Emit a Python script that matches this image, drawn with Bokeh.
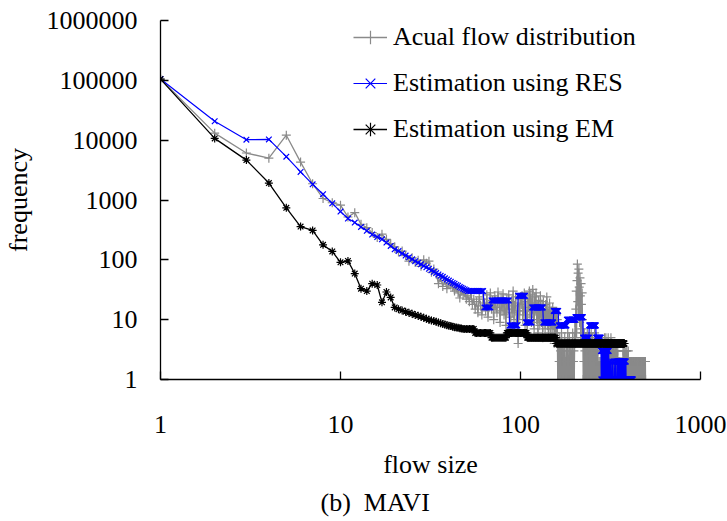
from bokeh.plotting import figure
from bokeh.models import Range1d, FixedTicker, NumeralTickFormatter, Legend, LegendItem, Title
from bokeh.embed import file_html
from bokeh.resources import INLINE

FONT = "Liberation Serif"
GRAY = "#8a8a8a"
BLUE = "#0000ff"
BLACK = "#000000"

x_ticks = [1, 10, 100, 1000]
y_ticks = [1, 10, 100, 1000, 10000, 100000, 1000000]

series_labels = ["Acual flow distribution", "Estimation using RES", "Estimation using EM"]
caption_text = "(b)\u00a0\u00a0MAVI"

# Actual flow distribution, frequency for flow size 1, 2, 3, ...
actual_freq = [
    105000, 13100, 6100, 5000, 12100, 4300, 1870, 1060, 900, 820,
    520, 615, 393, 345, 285, 236, 268, 220, 185, 165,
    135, 140, 118, 95, 108, 90, 98, 78, 100, 88,
    95, 62, 70, 58, 40, 50, 36, 45, 33, 40,
    38, 35, 30, 34, 28, 23, 30, 26, 28, 22,
    25, 20, 28, 18, 22, 15, 20, 13, 24, 17, 12, 22, 19, 14, 26, 11, 18, 28, 15, 21,
    10, 25, 16, 13, 29, 19, 9, 23, 14, 27, 12, 18, 8, 22, 15, 26, 11, 7, 20, 13,
    30, 10, 17, 24, 9, 14, 4, 19, 12, 22,
    18, 25, 10, 14, 28, 8, 20, 12, 6, 22, 16, 30, 11, 26, 9, 19, 32, 13, 7, 24,
    15, 28, 10, 18, 6, 21, 12, 8, 25, 14, 9, 17, 5, 20, 11, 13, 7, 18, 10, 24,
    8, 15, 6, 12, 19, 9, 5, 14, 10, 7, 16, 8, 11, 4, 13, 6, 9, 12, 5, 10,
    1, 4, 1, 2, 5, 1, 3, 1, 6, 2, 1, 4, 1, 1, 3, 5, 1, 2, 1, 4,
    1, 3, 6, 1, 2, 1, 5, 1, 1, 3, 2, 1, 4, 1, 6, 1, 2, 3, 1, 5,
    9, 4, 15, 30, 6, 45, 85, 20, 60, 12, 70, 35, 9, 50, 25, 5, 40, 18, 7, 28,
    10, 6,
    1, 4, 2, 6, 1, 3, 1, 5, 2, 1, 4, 1, 6, 1, 2, 3, 1, 5, 1, 2,
    1, 4, 1, 3, 6, 1, 2, 1, 5, 1, 3, 1, 4, 2, 1, 6, 1, 3, 1, 2,
    5, 1, 2, 1, 4, 1, 3, 1,
    1, 1, 2, 1, 1, 1, 2, 1, 1, 1, 1, 2, 1, 1, 1, 1, 2, 1, 1, 1,
    4, 1, 5, 1, 2, 3, 1, 5, 1, 1, 3, 1, 4, 1, 2, 1, 5, 1, 3, 1,
    1, 4, 1, 2, 1, 3, 1, 5, 1, 2, 1, 3, 1, 1, 4, 1, 2, 1, 3, 1,
    1, 2, 1, 4, 1, 1, 3, 1, 2, 1, 1, 3, 1, 2, 1, 1, 3, 1, 1, 2,
    1, 1, 1, 2, 1, 1, 1, 1, 1, 1, 2, 1, 1, 1, 1, 1, 2, 1, 1, 1,
    3, 1, 2, 1, 3, 1, 1, 2, 1, 3, 1, 1, 2, 1, 3, 1, 2, 1, 1, 3,
    1, 2, 1, 1, 2, 1, 3, 1, 1, 2,
    2, 1, 2, 1, 1, 2, 1, 2, 1, 2, 1, 1, 2, 1, 2, 1, 2, 1, 1, 2,
    1, 2, 1, 2, 1, 1, 2, 1, 2, 1, 2, 1, 1, 2, 1, 2, 1, 2, 1, 1,
    2, 1, 2, 1, 2, 1, 1, 2, 1, 2, 1, 2, 1, 1, 2, 1, 2, 1, 2, 1,
    1, 2, 1, 2, 1, 2, 1, 1, 2, 1, 2, 1, 2, 1, 1, 2, 1, 2, 1, 2,
    1, 1, 2, 1, 2, 1, 2, 1, 1, 2, 1, 2, 1, 2, 1,
]

# Estimation using RES
res_freq = [
    105000, 20700, 10200, 10300, 5300, 2950, 1830, 1250, 880, 640,
    490, 420, 355, 305, 265, 240, 220, 194, 171, 150,
    140, 128, 118, 110, 102, 95, 89, 84, 79, 75,
    71, 67, 63, 60, 57, 54, 52, 49, 47, 45,
    43, 41, 40, 38, 37, 35, 34, 33, 32, 31,
    30, 30, 30, 30, 30, 30, 30, 30, 30, 30, 30, 30,
    16, 16, 16, 16, 16, 16,
    21, 21, 21, 21, 21, 21, 21, 21, 21, 21, 21, 21, 21, 21, 21, 21, 21, 21,
    8, 8, 8, 8, 8, 8, 8, 8, 8, 8,
    25, 25, 25, 25, 25, 25, 25, 25, 25, 25,
    9, 9, 9, 9, 9, 9, 9, 9, 9,
    16, 16, 16, 16, 16, 16, 16, 16, 16, 16, 16, 16, 16, 16, 16, 16, 16, 16,
    9, 9, 9, 9, 9, 9, 9, 9, 9, 9, 9, 9, 9, 9, 9, 9, 9, 9, 9,
    14, 14, 14, 14, 14, 14, 14, 14, 14, 14,
    8, 8, 8, 8, 8, 8, 8, 8, 8, 8, 8, 8, 8, 8, 8, 8, 8, 8,
    10, 10, 10, 10, 10, 10, 10, 10, 10, 10, 10, 10, 10, 10, 10, 10, 10, 10, 10, 10, 10,
    11, 11, 11, 11, 11, 11, 11, 11, 11, 11, 11, 11, 11, 11, 11, 11, 11, 11, 11, 11, 11,
    5, 5, 5, 5, 5, 5, 5, 5, 5, 5, 5, 5, 5, 5, 5, 5, 5, 5,
    8, 8, 8, 8, 8, 8, 8, 8, 8, 8, 8, 8, 8, 8, 8, 8, 8, 8, 8, 8, 8, 8,
    5, 5, 5, 5, 5, 5, 5, 5, 5, 5, 5, 5, 5, 5, 5, 5, 5,
    3, 1, 3, 3, 1, 3, 1, 3, 3, 1, 3, 1, 3, 1, 3, 3, 1, 3, 1, 3,
    3, 1, 3, 1, 3, 1, 3, 3, 1, 3, 1,
    1, 1, 2, 1, 1, 1, 1, 2, 1, 1, 1, 1, 1, 2, 1, 1, 1, 1, 1, 1,
    2, 1, 1, 1, 1, 1, 2, 1, 1, 1, 1, 1, 1, 2, 1,
    2, 2, 1, 2, 2, 2, 1, 2, 2, 1, 2, 2, 2, 1, 2, 2, 1, 2, 2, 2,
    1, 2, 2, 1, 2, 2, 2, 1, 2, 2, 1, 2, 2, 2, 1, 2, 1, 1, 1, 2,
    1, 1, 1, 1, 1,
    1, 1, 1, 1, 1, 1, 1, 1, 1, 1, 1, 1, 1, 1, 1, 1, 1, 1, 1, 1,
    1, 1, 1, 1, 1, 1, 1, 1, 1, 1,
]

# Estimation using EM
em_freq = [
    105000, 10700, 4640, 1920, 740, 360, 310, 178, 138, 91,
    96, 59, 33, 30, 40, 38, 19.5, 29, 23.5, 16,
    15, 14.2, 13.6, 13.0, 12.5, 12.0, 11.6, 11.2, 10.8, 10.4,
    10.0, 9.7, 9.5, 9.2, 9.0, 8.7, 8.5, 8.3, 8.1, 7.9,
    7.8, 7.6, 7.5, 7.4, 7.3, 7.2, 7.1, 7.0,
    7, 7, 7, 7, 7, 7, 7,
    6, 6, 6, 6, 6, 6, 6, 6, 6, 6, 6, 6, 6,
    5, 5, 5, 5, 5, 5, 5, 5, 5, 5, 5, 5, 5, 5, 5,
    6, 6, 6, 6, 6, 6, 6, 6, 6, 6, 6, 6, 6, 6, 6, 6, 6, 6, 6, 6, 6, 6, 6, 6, 6,
    5, 5, 5, 5, 5, 5, 5, 5, 5, 5, 5, 5, 5, 5, 5, 5, 5, 5, 5, 5, 5, 5, 5, 5, 5,
    5, 5, 5, 5, 5, 5, 5, 5, 5, 5, 5, 5, 5, 5, 5, 5, 5, 5, 5, 5, 5, 5, 5, 5,
    4, 4, 4, 4, 4, 4, 4, 4, 4, 4, 4, 4, 4, 4, 4, 4, 4, 4, 4, 4, 4, 4, 4, 4, 4,
    4, 4, 4, 4, 4, 4, 4, 4, 4, 4, 4, 4, 4, 4, 4, 4, 4, 4, 4, 4, 4, 4, 4, 4, 4,
    4, 4, 4, 4, 4, 4, 4, 4, 4, 4, 4, 4, 4, 4, 4, 4, 4, 4, 4, 4, 4, 4, 4, 4, 4,
    4, 4, 4, 4, 4, 4, 4, 4, 4, 4, 4, 4, 4, 4, 4, 4, 4, 4, 4, 4, 4, 4, 4, 4, 4,
    4, 4, 4, 4, 4, 4, 4, 4, 4, 4, 4, 4, 4, 4, 4, 4, 4, 4, 4, 4, 4, 4, 4, 4, 4,
    4, 4, 4, 4, 4, 4, 4, 4, 4, 4, 4, 4, 4, 4, 4, 4, 4, 4, 4, 4, 4, 4, 4, 4, 4,
    4, 4, 4, 4, 4, 4, 4, 4, 4, 4, 4, 4, 4, 4, 4, 4, 4, 4, 4, 4, 4, 4, 4, 4, 4,
    4, 4, 4, 4, 4, 4, 4, 4, 4, 4, 4, 4, 4, 4, 4, 4, 4, 4, 4, 4, 4, 4, 4, 4, 4,
    4, 4, 4, 4, 4, 4, 4, 4, 4, 4, 4, 4, 4, 4, 4, 4, 4, 4, 4, 4, 4,
]

actual_x = list(range(1, len(actual_freq) + 1))
res_x = list(range(1, len(res_freq) + 1))
em_x = list(range(1, len(em_freq) + 1))

p = figure(width=727, height=521, x_axis_type="log", y_axis_type="log",
           x_range=Range1d(1, 1000), y_range=Range1d(1, 1000000),
           output_backend="svg", toolbar_location=None,
           min_border_left=160, min_border_right=27, min_border_top=20,
           min_border_bottom=142)
p.grid.visible = False
p.outline_line_color = None
p.background_fill_color = "white"
p.border_fill_color = "white"

for ax in (p.xaxis[0], p.yaxis[0]):
    ax.axis_line_color = "black"
    ax.axis_line_width = 1.3
    ax.major_tick_in = 8
    ax.major_tick_out = 0
    ax.minor_tick_in = 0
    ax.minor_tick_out = 0
    ax.major_tick_line_color = "black"
    ax.major_tick_line_width = 1.3
    ax.major_label_text_font = FONT
    ax.major_label_text_font_size = "26px"
    ax.major_label_text_color = "black"
    ax.axis_label_text_font = FONT
    ax.axis_label_text_font_size = "26px"
    ax.axis_label_text_font_style = "normal"
    ax.axis_label_text_color = "black"
    ax.formatter = NumeralTickFormatter(format="0")

p.xaxis.ticker = FixedTicker(ticks=x_ticks, minor_ticks=[])
p.yaxis.ticker = FixedTicker(ticks=y_ticks, minor_ticks=[])
p.xaxis.axis_label = "flow size"
p.yaxis.axis_label = "frequency"
p.xaxis.major_label_standoff = 36
p.yaxis.major_label_standoff = 23
p.xaxis.axis_label_standoff = 14
p.yaxis.axis_label_standoff = 11

gl = p.line(actual_x, actual_freq, line_color=GRAY, line_width=1.3)
gs = p.scatter(actual_x, actual_freq, marker="cross", size=9, line_color=GRAY, line_width=1.2)
bl = p.line(res_x, res_freq, line_color=BLUE, line_width=1.2)
bs = p.scatter(res_x, res_freq, marker="x", size=8, line_color=BLUE, line_width=1.2)
kl = p.line(em_x, em_freq, line_color=BLACK, line_width=1.3)
ks = p.scatter(em_x, em_freq, marker="asterisk", size=8, line_color=BLACK, line_width=1.2)

legend = Legend(items=[
    LegendItem(label=series_labels[0], renderers=[gl, gs]),
    LegendItem(label=series_labels[1], renderers=[bl, bs]),
    LegendItem(label=series_labels[2], renderers=[kl, ks]),
], location=(193, 230))
legend.background_fill_alpha = 0
legend.border_line_color = None
legend.padding = 0
legend.margin = 0
legend.spacing = 6
legend.glyph_width = 34
legend.glyph_height = 40
legend.label_height = 40
legend.label_standoff = 6
legend.label_text_font = FONT
legend.label_text_font_size = "26px"
legend.label_text_color = "black"
p.add_layout(legend)

caption = Title(text=caption_text, align="left", offset=160, standoff=9,
                text_font=FONT, text_font_size="26px", text_font_style="normal",
                text_color="black")
p.add_layout(caption, "below")

open("out.html", "w").write(file_html(p, INLINE))
